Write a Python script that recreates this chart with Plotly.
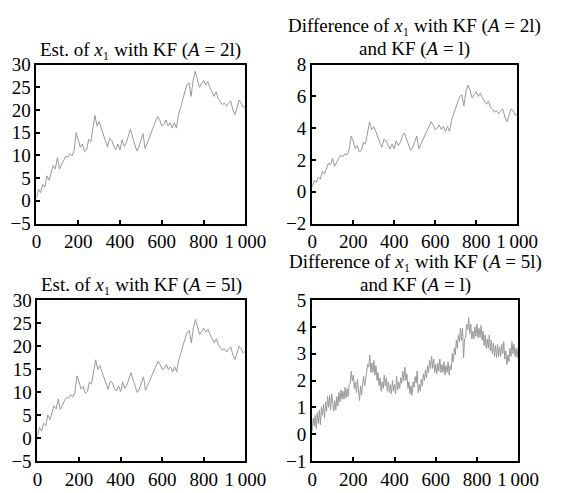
import plotly.graph_objects as go

# ---------------- data ----------------
x_10 = list(range(0, 1001, 10))
x_5 = list(range(0, 1001, 5))

est_A2 = [0.5, 2.5, 1.8, 3.6, 3.0, 5.5, 4.5, 6.5, 7.8, 7.0,
          9.5, 7.0, 8.0, 9.0, 9.8, 9.6, 10.4, 9.9, 11.0, 15.0,
          13.5, 11.8, 12.5, 10.8, 11.2, 13.5, 13.0, 16.5, 18.8, 16.5,
          17.5, 16.0, 14.5, 13.2, 11.8, 13.8, 13.3, 12.0, 11.3, 12.5,
          11.2, 13.5, 12.0, 12.8, 14.5, 15.8, 14.0, 12.2, 11.0, 11.8,
          13.5, 14.8, 11.5, 12.8, 14.0, 15.0, 16.3, 17.5, 18.5, 17.8,
          16.5, 16.8, 17.8, 16.5, 17.2, 16.0, 17.2, 16.0, 19.0, 20.5,
          22.5, 24.0, 25.5, 26.0, 23.0, 26.5, 28.5, 27.0, 25.0, 25.8,
          26.5, 25.5, 26.3, 25.0, 24.0, 23.0, 24.0, 22.5, 21.8, 21.2,
          21.5, 20.8, 21.5, 22.0, 20.0, 19.0, 20.5, 22.2, 21.5, 20.5,
          21.0]

diff_A2 = [0.3, 0.7, 0.6, 0.9, 0.8, 1.3, 1.1, 1.5, 1.8, 1.7,
           2.1, 1.6, 1.9, 2.1, 2.3, 2.2, 2.4, 2.3, 2.6, 3.5,
           3.2, 2.7, 2.9, 2.5, 2.6, 3.1, 3.0, 3.8, 4.4, 3.9,
           4.1, 3.8, 3.4, 3.1, 2.8, 3.3, 3.2, 2.9, 2.7, 3.0,
           2.7, 3.2, 2.9, 3.1, 3.5, 3.7, 3.3, 2.9, 2.6, 2.8,
           3.2, 3.5, 2.7, 3.0, 3.3, 3.6, 3.9, 4.1, 4.4, 4.2,
           3.9, 4.0, 4.2, 3.9, 4.1, 3.8, 4.1, 3.8, 4.5, 4.9,
           5.3, 5.7, 6.0, 6.1, 5.4, 6.3, 6.7, 6.4, 5.9, 6.1,
           6.3, 6.0, 6.2, 5.9, 5.7, 5.5, 5.7, 5.3, 5.2, 5.0,
           5.1, 4.9, 5.1, 5.2, 4.7, 4.4, 4.8, 5.2, 5.1, 4.8,
           4.9]

est_A5 = [0.3, 2.3, 1.5, 3.2, 2.7, 5.0, 4.0, 5.8, 7.0, 6.3,
          8.5, 6.2, 7.2, 8.1, 8.8, 8.6, 9.4, 8.9, 9.9, 13.5,
          12.2, 10.6, 11.2, 9.7, 10.1, 12.2, 11.7, 14.8, 17.0, 14.9,
          15.8, 14.4, 13.0, 11.9, 10.6, 12.4, 12.0, 10.8, 10.2, 11.3,
          10.1, 12.2, 10.8, 11.5, 13.0, 14.2, 12.6, 11.0, 9.9, 10.6,
          12.2, 13.3, 10.4, 11.5, 12.6, 13.5, 14.7, 15.8, 16.7, 16.0,
          14.9, 15.1, 16.0, 14.9, 15.5, 14.4, 15.5, 14.4, 17.1, 18.5,
          20.3, 21.6, 23.0, 23.4, 20.7, 23.9, 25.8, 24.3, 22.5, 23.2,
          23.9, 23.0, 23.7, 22.5, 21.6, 20.7, 21.6, 20.3, 19.6, 19.1,
          19.4, 18.7, 19.4, 19.8, 18.0, 17.1, 18.5, 20.0, 19.4, 18.5,
          18.9]

diff_A5 = [0.1, 0.6, 0.3, 0.7, 0.2, 0.8, 0.4, 0.9, 0.35, 1.0,
           0.7, 1.1, 0.6, 1.2, 0.85, 1.4, 1.0, 1.45, 0.9, 1.5,
           1.2, 0.85, 1.25, 0.9, 1.4, 1.05, 1.55, 1.2, 1.65, 1.3,
           1.6, 1.3, 1.75, 1.35, 1.7, 1.4, 1.85, 1.9, 2.35, 2.0,
           2.2, 1.7, 1.95, 1.55, 2.05, 1.5, 1.25, 1.8, 1.45, 1.9,
           2.15, 1.8, 2.15, 2.25, 2.6, 2.5, 2.95, 2.3, 2.65, 2.3,
           2.75, 2.2, 2.55, 2.0, 2.3, 1.8, 2.1, 1.6, 1.95, 1.7,
           2.2, 1.8, 2.1, 1.6, 1.95, 1.55, 1.85, 1.5, 2.0, 1.6,
           1.85, 1.5, 2.15, 1.65, 1.95, 1.7, 2.1, 1.9, 2.35, 2.0,
           2.5, 2.0, 2.25, 1.7, 1.95, 1.5, 1.8, 1.45, 1.95, 1.75,
           2.15, 1.9, 2.35, 1.55, 1.85, 1.6, 2.05, 1.8, 2.25, 2.0,
           2.4, 2.1, 2.55, 2.3, 2.75, 2.45, 2.9, 2.45, 2.8, 2.3,
           2.6, 2.25, 2.65, 2.35, 2.8, 2.3, 2.6, 2.3, 2.7, 2.2,
           2.55, 2.3, 2.7, 2.2, 2.55, 2.4, 3.0, 2.7, 3.2, 2.95,
           3.5, 3.2, 3.7, 3.45, 3.95, 3.5, 3.95, 2.85, 3.55, 3.6,
           4.1, 3.9, 4.35, 3.75, 4.1, 3.55, 3.85, 3.55, 4.0, 3.65,
           4.1, 3.6, 3.95, 3.6, 4.05, 3.5, 3.85, 3.3, 3.7, 3.2,
           3.55, 3.2, 3.7, 3.1, 3.5, 3.0, 3.4, 2.9, 3.3, 2.85,
           3.35, 2.9, 3.25, 2.9, 3.35, 3.0, 3.45, 2.8, 3.1, 2.6,
           2.95, 2.7, 3.2, 2.9, 3.45, 3.0, 3.35, 2.9, 3.2, 2.85,
           3.25]

x_tickvals = [0, 200, 400, 600, 800, 1000]
x_ticktext = ["0", "200", "400", "600", "800", "1\u2009000"]

# each panel title as a list of lines
panel_titles = [
    ["Est. of <i>x</i>\u2081 with KF (<i>A</i> = 2l)"],
    ["Difference of <i>x</i>\u2081 with KF (<i>A</i> = 2l)", "and KF (<i>A</i> = l)"],
    ["Est. of <i>x</i>\u2081 with KF (<i>A</i> = 5l)"],
    ["Difference of <i>x</i>\u2081 with KF (<i>A</i> = 5l)", "and KF (<i>A</i> = l)"],
]

# ---------------- layout geometry ----------------
W, H = 563, 493
FONT = "Liberation Serif, Times New Roman, serif"
LINE_COLOR = "#999999"

panels = [
    dict(x=x_10, y=est_A2, xd=(33, 252), yd=(57, 223), yr=(-5, 30),
         yt=[-5, 0, 5, 10, 15, 20, 25, 30], ty=[42]),
    dict(x=x_10, y=diff_A2, xd=(322, 537), yd=(57, 223), yr=(-2, 8),
         yt=[-2, 0, 2, 4, 6, 8], ty=[17, 41]),
    dict(x=x_10, y=est_A5, xd=(34, 252), yd=(303, 471), yr=(-5, 30),
         yt=[-5, 0, 5, 10, 15, 20, 25, 30], ty=[287]),
    dict(x=x_5, y=diff_A5, xd=(322, 538), yd=(303, 471), yr=(-1, 5),
         yt=[-1, 0, 1, 2, 3, 4, 5], ty=[263, 287]),
]

fig = go.Figure()
annotations = []
for i, p in enumerate(panels, start=1):
    xa = "x" if i == 1 else f"x{i}"
    ya = "y" if i == 1 else f"y{i}"
    fig.add_trace(go.Scatter(x=p["x"], y=p["y"], mode="lines",
                             line=dict(color=LINE_COLOR, width=1),
                             xaxis=xa, yaxis=ya, showlegend=False,
                             hoverinfo="skip"))
    axis_common = dict(showgrid=False, zeroline=False, showline=True,
                       linecolor="black", linewidth=2, mirror=True,
                       ticks="inside", ticklen=4, tickwidth=1.5, tickcolor="black",
                       tickfont=dict(family=FONT, size=19, color="black"))
    xkey = "xaxis" if i == 1 else f"xaxis{i}"
    ykey = "yaxis" if i == 1 else f"yaxis{i}"
    fig.update_layout(**{
        xkey: dict(domain=[p["xd"][0] / W, p["xd"][1] / W], range=[0, 1000],
                   tickvals=x_tickvals, ticktext=x_ticktext,
                   anchor=ya, **axis_common),
        ykey: dict(domain=[1 - p["yd"][1] / H, 1 - p["yd"][0] / H], range=list(p["yr"]),
                   tickvals=p["yt"], anchor=xa, **axis_common),
    })
    for line_text, ty in zip(panel_titles[i - 1], p["ty"]):
        annotations.append(dict(text=line_text, xref="paper", yref="paper",
                                x=(p["xd"][0] + p["xd"][1]) / 2 / W,
                                y=1 - ty / H, xanchor="center", yanchor="middle",
                                showarrow=False, borderpad=0,
                                font=dict(family=FONT, size=19, color="black")))

fig.update_layout(width=W, height=H, margin=dict(l=0, r=0, t=0, b=0),
                  paper_bgcolor="white", plot_bgcolor="white",
                  annotations=annotations)

fig.write_html("out.html")
